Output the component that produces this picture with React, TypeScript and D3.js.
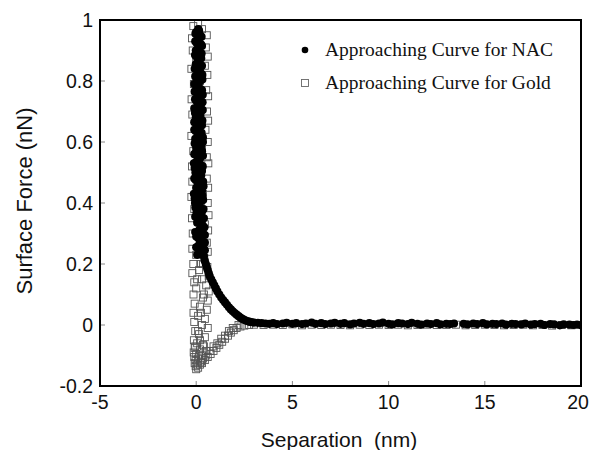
import React from "react";
import * as d3 from "d3";

const xTicks = [-5, 0, 5, 10, 15, 20];
const yTicks = [-0.2, 0, 0.2, 0.4, 0.6, 0.8, 1];
const yTickLabels = ["-0.2", "0", "0.2", "0.4", "0.6", "0.8", "1"];

const nacSpike: [number, number][] = [
  [0.1, 0.97], [0.0, 0.96], [0.2, 0.95], [0.08, 0.94], [-0.05, 0.93], [0.25, 0.92], [0.12, 0.91],
  [-0.02, 0.9], [0.28, 0.89], [0.0, 0.88], [0.18, 0.87], [0.06, 0.86], [0.3, 0.85], [-0.08, 0.84],
  [0.15, 0.83], [0.32, 0.82], [0.02, 0.81], [0.2, 0.8], [-0.1, 0.79], [0.1, 0.78], [0.3, 0.77],
  [0.04, 0.76], [0.22, 0.75], [-0.06, 0.74], [0.33, 0.73], [0.12, 0.72], [-0.1, 0.71], [0.25, 0.7],
  [0.15, 0.69], [-0.02, 0.68], [0.32, 0.67], [0.06, 0.66], [0.2, 0.65], [-0.1, 0.64], [0.28, 0.63],
  [0.1, 0.62], [-0.05, 0.61], [0.35, 0.6], [0.16, 0.59], [0.0, 0.58], [0.3, 0.57], [-0.1, 0.56],
  [0.22, 0.55], [0.08, 0.54], [-0.12, 0.53], [0.34, 0.52], [0.14, 0.51], [-0.04, 0.5], [0.26, 0.49],
  [-0.1, 0.48], [0.36, 0.47], [0.1, 0.46], [0.0, 0.45], [0.3, 0.44], [-0.12, 0.43], [0.2, 0.42],
  [0.36, 0.41], [-0.06, 0.4], [0.15, 0.39], [0.38, 0.38], [0.02, 0.37], [0.26, 0.36], [0.4, 0.35],
  [0.08, 0.34], [0.3, 0.33], [0.42, 0.32], [0.15, 0.31], [0.36, 0.3], [0.0, 0.29], [0.28, 0.28],
  [0.45, 0.27], [0.12, 0.26], [0.38, 0.25], [0.25, 0.24], [0.05, 0.23],
];

const nacSpikeFill: [number, number][] = [
  [0.15, 0.965], [-0.04, 0.955], [0.28, 0.945], [0.12, 0.935], [0.02, 0.925], [0.3, 0.915],
  [0.08, 0.905], [0.2, 0.895], [-0.06, 0.885], [0.26, 0.875], [0.1, 0.865], [-0.02, 0.855],
  [0.22, 0.845], [0.05, 0.835], [0.25, 0.825], [-0.05, 0.815], [0.32, 0.805], [0.14, 0.795],
  [0.0, 0.785], [0.2, 0.775], [-0.08, 0.765], [0.34, 0.755], [0.1, 0.745], [0.0, 0.735],
  [0.24, 0.725], [0.05, 0.715], [0.34, 0.705], [-0.06, 0.695], [0.22, 0.685], [0.1, 0.675],
  [-0.1, 0.665], [0.3, 0.655], [0.12, 0.645], [-0.02, 0.635], [0.22, 0.625], [0.35, 0.615],
  [0.05, 0.605], [-0.08, 0.595], [0.25, 0.585], [0.12, 0.575], [-0.02, 0.565], [0.35, 0.555],
  [0.18, 0.545], [0.0, 0.535], [0.24, 0.525], [-0.08, 0.515], [0.3, 0.505], [0.08, 0.495],
  [0.2, 0.485], [-0.02, 0.475], [0.28, 0.465], [0.38, 0.455], [0.12, 0.445], [0.05, 0.435],
  [0.32, 0.425], [-0.08, 0.415], [0.25, 0.405], [0.1, 0.395], [-0.04, 0.385], [0.32, 0.375],
  [0.18, 0.365], [-0.05, 0.355], [0.24, 0.345], [0.05, 0.335], [0.35, 0.325], [0.22, 0.315],
  [-0.05, 0.305], [0.45, 0.295], [0.1, 0.285], [0.2, 0.275], [0.32, 0.265], [0.0, 0.255],
  [0.45, 0.245],
];

const nacDecay: [number, number][] = [
  [0.4, 0.225], [0.45, 0.21], [0.5, 0.2], [0.55, 0.19], [0.6, 0.18], [0.65, 0.17], [0.7, 0.16],
  [0.78, 0.15], [0.86, 0.14], [0.94, 0.13], [1.02, 0.12], [1.1, 0.11], [1.2, 0.1], [1.3, 0.09],
  [1.4, 0.082], [1.5, 0.074], [1.6, 0.066], [1.7, 0.058], [1.8, 0.051], [1.9, 0.045], [2.0, 0.039],
  [2.1, 0.034], [2.2, 0.029], [2.3, 0.024], [2.4, 0.02], [2.5, 0.017], [2.6, 0.014], [2.7, 0.012],
  [2.8, 0.01], [2.9, 0.009], [3.0, 0.008], [3.2, 0.007],
];

const nacFlat: [number, number][] = [
  [3.4, 0.006], [3.6, 0.005], [3.8, 0.004], [4.0, 0.006], [4.2, 0.003], [4.5, 0.005], [4.7, 0.007],
  [5.0, 0.004], [5.2, 0.006], [5.5, 0.003], [5.7, 0.005], [6.0, 0.008], [6.2, 0.004], [6.5, 0.006],
  [6.7, 0.003], [7.0, 0.005], [7.2, 0.007], [7.5, 0.004], [7.7, 0.006], [8.0, 0.002], [8.2, 0.005],
  [8.5, 0.007], [8.7, 0.004], [9.0, 0.006], [9.2, 0.003], [9.5, 0.005], [9.7, 0.008], [10.0, 0.004],
  [10.2, 0.002], [10.5, 0.006], [10.7, 0.005], [11.0, 0.003], [11.2, 0.007], [11.5, 0.004],
  [11.7, 0.001], [12.0, 0.005], [12.2, 0.003], [12.5, 0.006], [12.7, 0.002], [13.0, 0.004],
  [13.2, 0.003], [13.4, 0.005], [13.9, 0.004], [14.1, 0.002], [14.4, 0.005], [14.6, 0.003],
  [14.9, 0.006], [15.1, 0.002], [15.4, 0.004], [15.6, 0.003], [15.9, 0.005], [16.1, 0.001],
  [16.4, 0.004], [16.6, 0.003], [16.9, 0.002], [17.1, 0.005], [17.4, 0.001], [17.6, 0.003],
  [17.9, 0.004], [18.1, 0.0], [18.4, 0.003], [18.6, 0.002], [18.9, -0.001], [19.1, 0.002],
  [19.4, 0.001], [19.6, 0.0], [19.8, 0.001], [20.0, -0.001],
];

const goldSpike: [number, number][] = [
  [0.1, 0.99], [-0.15, 0.98], [0.3, 0.97], [0.55, 0.95], [-0.22, 0.94], [0.15, 0.93], [0.5, 0.91],
  [-0.18, 0.9], [0.6, 0.88], [0.0, 0.87], [0.45, 0.85], [-0.25, 0.84], [0.58, 0.82], [0.2, 0.8],
  [-0.12, 0.79], [0.52, 0.77], [0.62, 0.75], [-0.24, 0.74], [0.25, 0.72], [0.56, 0.7], [-0.2, 0.69],
  [0.62, 0.67], [0.05, 0.65], [0.48, 0.64], [-0.25, 0.62], [0.6, 0.6], [0.3, 0.58], [-0.15, 0.57],
  [0.55, 0.55], [0.63, 0.53], [-0.22, 0.52], [0.2, 0.5], [0.55, 0.48], [-0.2, 0.47], [0.62, 0.45],
  [0.35, 0.43], [-0.25, 0.42], [0.6, 0.4], [-0.1, 0.38], [0.64, 0.36], [-0.22, 0.35], [0.45, 0.33],
  [0.62, 0.31], [-0.18, 0.3], [0.25, 0.28], [0.55, 0.27],
  [-0.2, 0.25], [0.6, 0.24], [0.0, 0.23], [0.42, 0.22], [-0.15, 0.2], [0.58, 0.19], [0.15, 0.18],
  [-0.2, 0.17], [0.65, 0.16], [0.3, 0.15], [-0.1, 0.14], [0.52, 0.13], [0.0, 0.12], [0.65, 0.11],
  [-0.14, 0.1], [0.35, 0.09], [0.6, 0.08], [-0.08, 0.07], [0.2, 0.06], [0.55, 0.05], [-0.14, 0.04],
  [0.1, 0.03], [0.45, 0.02], [-0.1, 0.01], [0.3, 0.0], [0.6, -0.01], [-0.05, -0.02], [0.15, -0.03],
  [0.45, -0.04], [-0.12, -0.05], [0.05, -0.06], [0.35, -0.065], [-0.08, -0.075], [0.2, -0.08],
  [0.5, -0.085], [-0.13, -0.09], [0.0, -0.095], [0.3, -0.1], [-0.1, -0.105], [0.1, -0.11],
  [-0.03, -0.115], [0.25, -0.12], [-0.08, -0.125], [0.05, -0.13], [-0.03, -0.135], [0.1, -0.14],
  [0.0, -0.145], [0.25, 0.2], [0.4, 0.1], [0.1, -0.02], [0.2, -0.05], [0.4, -0.07], [0.15, -0.1],
  [0.35, -0.11], [0.2, -0.13], [-0.05, -0.07], [0.25, 0.04], [0.05, 0.15], [0.35, 0.2],
];

const goldReturn: [number, number][] = [
  [0.3, -0.125], [0.45, -0.115], [0.6, -0.105], [0.75, -0.095], [0.9, -0.085], [1.05, -0.075],
  [1.2, -0.065], [1.35, -0.055], [1.5, -0.045], [1.65, -0.035], [1.8, -0.025], [1.95, -0.017],
  [2.1, -0.01], [2.3, -0.005], [2.5, -0.002], [2.75, 0.0], [0.5, -0.1], [0.7, -0.085], [0.9, -0.07],
  [1.1, -0.06], [1.3, -0.045], [1.5, -0.035], [1.7, -0.02], [1.9, -0.01], [2.2, 0.0],
];

const goldFlat: [number, number][] = [
  [3.0, 0.001], [3.5, 0.0], [4.0, 0.001], [4.5, 0.0], [5.0, 0.002], [5.5, -0.001], [6.0, 0.001],
  [6.5, 0.0], [7.0, 0.001], [7.5, 0.0], [8.0, -0.001], [8.5, 0.001], [9.0, 0.0], [9.5, 0.001],
  [10.0, 0.0], [10.5, 0.001], [11.0, -0.001], [11.5, 0.0], [12.0, 0.001], [12.5, 0.0], [13.0, 0.0],
  [13.5, 0.001], [14.0, -0.001], [14.5, 0.0], [15.0, 0.001], [15.5, 0.0], [16.0, -0.001],
  [16.5, 0.0], [17.0, 0.001], [17.5, -0.001], [18.0, 0.0], [18.5, -0.002], [19.0, 0.0], [19.5, -0.001],
];

const nacLabel = "Approaching Curve for NAC";
const goldLabel = "Approaching Curve for Gold";

export default function App() {
  const left = 100, right = 581, top = 20, bottom = 386;
  const x = d3.scaleLinear().domain([-5, 20]).range([left, right]);
  const y = d3.scaleLinear().domain([-0.2, 1]).range([bottom, top]);
  const nac = [...nacSpike, ...nacSpikeFill, ...nacDecay, ...nacFlat];
  const gold = [...goldSpike, ...goldReturn, ...goldFlat];
  const sq = 7;
  const sans = "'Liberation Sans', Arial, sans-serif";
  const serif = "'Liberation Serif', 'Times New Roman', serif";
  return (
    <svg width={590} height={450} style={{ position: "absolute", left: 0, top: 0, background: "#fff" }}>
      <rect x={0} y={0} width={590} height={450} fill="#fff" />
      <defs>
        <clipPath id="plot">
          <rect x={left} y={top} width={right - left} height={bottom - top} />
        </clipPath>
      </defs>
      <g clipPath="url(#plot)">
        {gold.map((d, i) => (
          <rect
            key={"g" + i}
            x={x(d[0]) - sq / 2}
            y={y(d[1]) - sq / 2}
            width={sq}
            height={sq}
            fill="none"
            stroke="#555"
            strokeWidth={0.9}
          />
        ))}
        {nac.map((d, i) => (
          <circle key={"n" + i} cx={x(d[0])} cy={y(d[1])} r={4.1} fill="#000" />
        ))}
      </g>
      {yTicks.map((t) => (
        <line key={"yt" + t} x1={left} x2={left + 5} y1={y(t)} y2={y(t)} stroke="#888" strokeWidth={1} />
      ))}
      {xTicks.map((t) => (
        <line key={"xt" + t} x1={x(t)} x2={x(t)} y1={bottom} y2={bottom - 5} stroke="#888" strokeWidth={1} />
      ))}
      <rect x={left} y={top} width={right - left} height={bottom - top} fill="none" stroke="#000" strokeWidth={2} />
      {yTicks.map((t, i) => (
        <text key={"yl" + t} x={left - 7} y={y(t)} dy="0.36em" textAnchor="end" fontFamily={sans} fontSize={19.5} fill="#111">
          {yTickLabels[i]}
        </text>
      ))}
      {xTicks.map((t) => (
        <text key={"xl" + t} x={Math.min(x(t), 578)} y={409} textAnchor="middle" fontFamily={sans} fontSize={19.5} fill="#111">
          {t}
        </text>
      ))}
      <text x={339} y={447} textAnchor="middle" fontFamily={sans} fontSize={21} fill="#111" style={{ whiteSpace: "pre" }}>
        {"Separation  (nm)"}
      </text>
      <text
        transform="translate(32,201) rotate(-90)"
        textAnchor="middle"
        fontFamily={sans}
        fontSize={22}
        fill="#111"
      >
        Surface Force (nN)
      </text>
      <circle cx={305} cy={50} r={3.3} fill="#000" />
      <text x={325} y={50} dy="0.33em" fontFamily={serif} fontSize={19.5} fill="#111">
        {nacLabel}
      </text>
      <rect x={305 - 3.5} y={83 - 3.5} width={7} height={7} fill="none" stroke="#666" strokeWidth={0.9} />
      <text x={325} y={83} dy="0.33em" fontFamily={serif} fontSize={19.5} fill="#111">
        {goldLabel}
      </text>
    </svg>
  );
}
